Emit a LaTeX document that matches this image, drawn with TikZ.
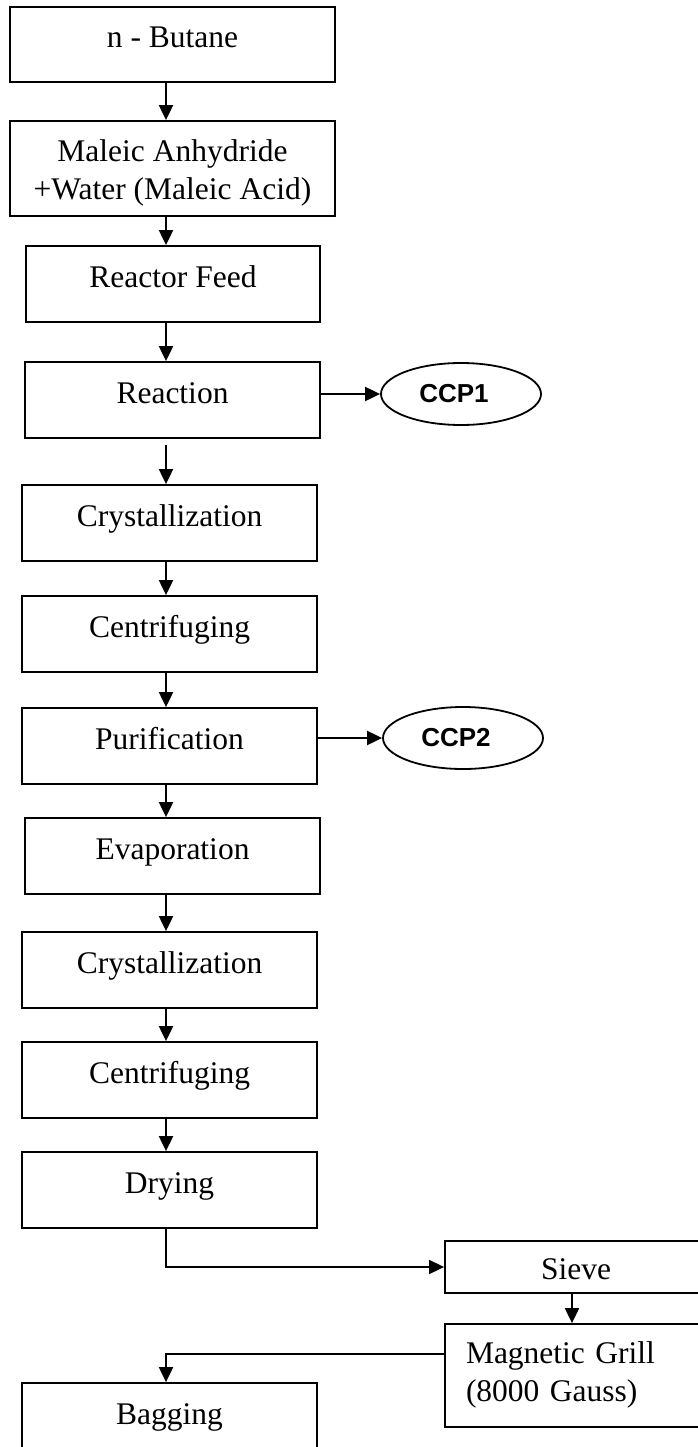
\documentclass[tikz,border=0pt]{standalone}
\usepackage{fontspec}
\setmainfont{Liberation Serif}
\newfontfamily\ccpfont{Liberation Sans}
\usepackage{tikz}
\usetikzlibrary{arrows.meta}
\usetikzlibrary{shapes}
\usetikzlibrary{calc}

\begin{document}
\begin{tikzpicture}[x=1pt,y=-1pt,
		stepbox/.style={draw, line width=1.8pt, inner sep=0pt, minimum width=295pt, minimum height=76pt, text height=22pt, text depth=16pt, font=\fontsize{31.5}{38}\selectfont},
		ccpnode/.style={draw, ellipse, line width=1.8pt, inner sep=0pt, minimum width=160pt, minimum height=62pt, font=\ccpfont\bfseries\fontsize{26}{30}\selectfont},
		flowarrow/.style={line width=2pt, -{Triangle[length=15pt,width=14pt]}}]
		\useasboundingbox (0,0) rectangle (698,1447);
		\clip (0,0) rectangle (698,1447);
		\coordinate (spine) at (166,0);
		
		\node[stepbox, minimum width=325pt, minimum height=75pt] (butane) at (172.5,44.5) {n - Butane};
		\node[stepbox, minimum width=325pt, minimum height=95pt, align=center, text height=62pt, text depth=0pt] (maleic) at (172.5,168.5) {Maleic Anhydride\\+Water (Maleic Acid)};
		\node[stepbox, minimum width=294pt] (feed) at (173,284) {Reactor Feed};
		\node[stepbox] (reaction) at (172.5,400) {Reaction};
		\node[stepbox] (cryst1) at (169.5,523) {Crystallization};
		\node[stepbox] (centri1) at (169.5,634) {Centrifuging};
		\node[stepbox] (purif) at (169.5,746) {Purification};
		\node[stepbox] (evap) at (172.5,856) {Evaporation};
		\node[stepbox] (cryst2) at (169.5,970) {Crystallization};
		\node[stepbox] (centri2) at (169.5,1080) {Centrifuging};
		\node[stepbox] (drying) at (169.5,1190) {Drying};
		\node[stepbox, minimum width=262pt, minimum height=52pt, text height=24pt, text depth=0pt] (sieve) at (576,1267) {Sieve};
		\node[stepbox, minimum width=262pt, minimum height=103pt, text width=220pt, align=left, text depth=47pt] (grill) at (576,1375.5) {Magnetic Grill\\(8000 Gauss)};
		\node[stepbox] (bagging) at (169.5,1421) {Bagging};
		
		\node[ccpnode] (ccp1) at (461,394) {CCP1\kern14pt};
		\node[ccpnode] (ccp2) at (463,738) {CCP2\kern14pt};
		
		% main line
		\draw[flowarrow] (butane.south -| spine) -- (maleic.north -| spine);
		\draw[flowarrow] (maleic.south -| spine) -- (feed.north -| spine);
		\draw[flowarrow] (feed.south -| spine) -- (reaction.north -| spine);
		\draw[flowarrow] ([yshift=-6pt]reaction.south -| spine) -- (cryst1.north -| spine);
		\draw[flowarrow] (cryst1.south -| spine) -- (centri1.north -| spine);
		\draw[flowarrow] (centri1.south -| spine) -- (purif.north -| spine);
		\draw[flowarrow] (purif.south -| spine) -- (evap.north -| spine);
		\draw[flowarrow] (evap.south -| spine) -- (cryst2.north -| spine);
		\draw[flowarrow] (cryst2.south -| spine) -- (centri2.north -| spine);
		\draw[flowarrow] (centri2.south -| spine) -- (drying.north -| spine);
		
		% control points
		\draw[flowarrow] (reaction.east |- ccp1) -- (ccp1.west);
		\draw[flowarrow] (purif.east |- ccp2) -- (ccp2.west);
		
		% last steps
		\draw[flowarrow, line width=1.6pt] (drying.south -| spine) |- (sieve.west);
		\draw[flowarrow] ([xshift=-4pt]sieve.south) -- ([xshift=-4pt]grill.north);
		\draw[flowarrow] ([yshift=22pt]grill.west) -| (bagging.north -| spine);
	\end{tikzpicture}
\end{document}
